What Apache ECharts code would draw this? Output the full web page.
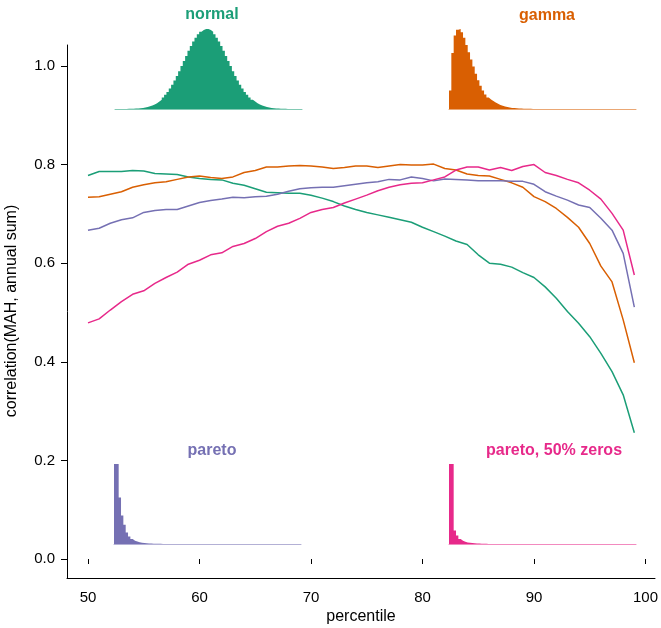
<!DOCTYPE html>
<html>
<head>
<meta charset="utf-8">
<script src="https://cdn.jsdelivr.net/npm/echarts@6/dist/echarts.min.js"></script>
<style>
html,body{margin:0;padding:0;background:#fff;}
#chart{width:661px;height:628px;}
</style>
</head>
<body>
<div id="chart"></div>
<script>
// ---- data ----
var percentiles = [50,51,52,53,54,55,56,57,58,59,60,61,62,63,64,65,66,67,68,69,70,71,72,73,74,75,76,77,78,79,80,81,82,83,84,85,86,87,88,89,90,91,92,93,94,95,96,97,98,99];
var normalCorr = [0.778,0.786,0.786,0.786,0.788,0.787,0.782,0.781,0.780,0.775,0.772,0.770,0.769,0.762,0.758,0.751,0.744,0.743,0.742,0.742,0.738,0.732,0.725,0.716,0.709,0.703,0.698,0.693,0.688,0.683,0.673,0.664,0.655,0.645,0.638,0.617,0.600,0.598,0.592,0.581,0.571,0.552,0.529,0.502,0.478,0.451,0.417,0.380,0.333,0.256];
var gammaCorr = [0.734,0.735,0.740,0.745,0.754,0.759,0.763,0.765,0.770,0.775,0.777,0.774,0.772,0.775,0.784,0.788,0.795,0.795,0.797,0.798,0.797,0.795,0.792,0.794,0.797,0.797,0.794,0.797,0.800,0.799,0.799,0.801,0.792,0.789,0.781,0.778,0.777,0.770,0.763,0.754,0.735,0.725,0.711,0.693,0.673,0.640,0.594,0.562,0.485,0.398];
var paretoCorr = [0.667,0.671,0.681,0.688,0.692,0.703,0.707,0.709,0.709,0.716,0.723,0.727,0.730,0.734,0.733,0.735,0.736,0.740,0.746,0.751,0.753,0.754,0.754,0.757,0.760,0.763,0.765,0.770,0.769,0.775,0.772,0.767,0.771,0.770,0.769,0.767,0.767,0.767,0.766,0.766,0.760,0.745,0.736,0.728,0.718,0.713,0.691,0.667,0.620,0.511];
var paretoZerosCorr = [0.479,0.487,0.505,0.522,0.537,0.544,0.559,0.571,0.582,0.598,0.606,0.617,0.621,0.634,0.640,0.650,0.664,0.675,0.681,0.691,0.703,0.709,0.713,0.722,0.730,0.738,0.747,0.754,0.759,0.762,0.763,0.769,0.775,0.789,0.795,0.795,0.789,0.794,0.788,0.796,0.800,0.784,0.778,0.770,0.763,0.748,0.730,0.701,0.667,0.576];

var xTicks = [50,60,70,80,90,100];
var yTicks = [0.0,0.2,0.4,0.6,0.8,1.0];

// inset histograms (80 bins, normalised to peak = 1)
var normalHist = [0,0,0.0005,0.001,0.001,0.002,0.003,0.004,0.005,0.007,0.010,0.014,0.019,0.025,0.033,0.044,0.057,0.073,0.093,0.116,0.144,0.177,0.214,0.257,0.304,0.357,0.413,0.473,0.536,0.600,0.664,0.727,0.787,0.843,0.892,0.933,0.965,0.987,1.0,
  1.0,0.987,0.965,0.933,0.892,0.843,0.787,0.727,0.664,0.600,0.536,0.473,0.413,0.357,0.304,0.257,0.214,0.177,0.144,0.116,0.093,0.073,0.057,0.044,0.033,0.025,0.019,0.014,0.010,0.007,0.005,0.004,0.003,0.002,0.001,0.001,0.0005,0,0,0,0];
var gammaHist = [0.23,0.70,0.92,0.99,1.0,0.96,0.89,0.80,0.71,0.62,0.53,0.44,0.36,0.29,0.23,0.18,0.145,0.12,0.10,0.08,0.065,0.05,0.04,0.03,0.024,0.018,0.014,0.011,0.008,0.006,0.005,0.004,0.003,0.0025,0.002,0.0015,0.001,0.001,0.0005,0.0005,
  0,0,0,0,0,0,0,0,0,0,0,0,0,0,0,0,0,0,0,0,0,0,0,0,0,0,0,0,0,0,0,0,0,0,0,0,0,0,0,0];
var paretoHist = [1.0,1.0,0.58,0.355,0.24,0.145,0.095,0.063,0.042,0.03,0.022,0.016,0.012,0.009,0.007,0.005,0.004,0.003,0.0025,0.002,0.0015,0.001,0.001,0.0005,0,0,0,0,0,0,0,0,0,0,0,0,0,0,0,0,
  0,0,0,0,0,0,0,0,0,0,0,0,0,0,0,0,0,0,0,0,0,0,0,0,0,0,0,0,0,0,0,0,0,0,0,0,0,0,0,0];
var paretoZerosHist = [1.0,1.0,0.17,0.105,0.063,0.04,0.028,0.02,0.015,0.011,0.008,0.006,0.005,0.004,0.003,0.002,0.0015,0.001,0.001,0.0005,0,0,0,0,0,0,0,0,0,0,0,0,0,0,0,0,0,0,0,0,
  0,0,0,0,0,0,0,0,0,0,0,0,0,0,0,0,0,0,0,0,0,0,0,0,0,0,0,0,0,0,0,0,0,0,0,0,0,0,0,0];

var seriesNames = ['normal','gamma','pareto','pareto, 50% zeros'];
var colors = ['#1b9e77','#d95f02','#7570b3','#e7298a'];

// ---- chart ----
var FONT = '"Liberation Sans", Arial, Helvetica, sans-serif';
var chart = echarts.init(document.getElementById('chart'), null, {renderer:'canvas'});

var hists = [normalHist, gammaHist, paretoHist, paretoZerosHist];
var insetBoxes = [
  {left:115, top:29, width:187, height:80},
  {left:449, top:29, width:187, height:80},
  {left:114, top:464, width:187, height:80},
  {left:449, top:464, width:187, height:80}
];
var insetTitles = [
  {x:212, y:15},
  {x:547, y:16},
  {x:212, y:451},
  {x:554, y:451}
];

var grids = [
  {left:67, top:45, width:588, height:533},   // frame
  {left:88, top:66, width:559, height:493}    // data
];
var xAxes = [
  {gridIndex:0, type:'value', min:0, max:1, axisLine:{show:true, lineStyle:{color:'#000', width:1}}, axisTick:{show:false}, axisLabel:{show:false}, splitLine:{show:false}},
  {gridIndex:1, type:'value', min:50, max:100, interval:10, offset:19,
    axisLine:{show:false}, axisTick:{show:true, length:5, lineStyle:{color:'#000'}},
    axisLabel:{show:true, color:'#000', fontSize:15, fontFamily:FONT, margin:12}, splitLine:{show:false}}
];
var yAxes = [
  {gridIndex:0, type:'value', min:0, max:1, axisLine:{show:true, lineStyle:{color:'#000', width:1}}, axisTick:{show:false}, axisLabel:{show:false}, splitLine:{show:false}},
  {gridIndex:1, type:'value', min:0, max:1, interval:0.2, offset:21,
    axisLine:{show:false}, axisTick:{show:true, length:6, lineStyle:{color:'#000'}},
    axisLabel:{show:true, color:'#000', fontSize:15, fontFamily:FONT, margin:12, formatter:function(v){return v.toFixed(1);}}, splitLine:{show:false}}
];

var series = [];
var corrs = [normalCorr, gammaCorr, paretoCorr, paretoZerosCorr];
corrs.forEach(function(arr, k){
  series.push({
    name: seriesNames[k], type:'line', xAxisIndex:1, yAxisIndex:1,
    data: percentiles.map(function(p, i){ return [p, arr[i]]; }),
    showSymbol:false, symbol:'none', smooth:false,
    lineStyle:{color:colors[k], width:1.5}, z:3
  });
});

hists.forEach(function(h, k){
  grids.push(insetBoxes[k]);
  var gi = grids.length - 1;
  xAxes.push({gridIndex:gi, type:'value', min:0, max:h.length,
    axisLine:{show:true, lineStyle:{color:colors[k], width:1, opacity:0.55}},
    axisTick:{show:false}, axisLabel:{show:false}, splitLine:{show:false}});
  yAxes.push({gridIndex:gi, type:'value', min:0, max:1, show:false, splitLine:{show:false}});
  // histogram drawn as a stepped filled area: each bin holds its height from its left edge to its right edge
  var pts = h.map(function(v, i){ return [i, v]; });
  pts.push([h.length, h[h.length - 1]]);
  series.push({
    name: seriesNames[k] + ' hist', type:'line', xAxisIndex:gi, yAxisIndex:gi,
    data:pts, step:'end', showSymbol:false, symbol:'none',
    lineStyle:{width:0, opacity:0},
    areaStyle:{color:colors[k], opacity:1},
    silent:true, z:2
  });
});

var graphics = [
  {type:'text', x:12, y:311, rotation:Math.PI/2,
   style:{text:'correlation(MAH, annual sum)', fill:'#000', font:'16px ' + FONT, textAlign:'center', textVerticalAlign:'middle'}},
  {type:'text', x:361, y:617,
   style:{text:'percentile', fill:'#000', font:'16px ' + FONT, textAlign:'center', textVerticalAlign:'middle'}}
];
insetTitles.forEach(function(t, k){
  graphics.push({type:'text', x:t.x, y:t.y,
    style:{text:seriesNames[k], fill:colors[k], font:'bold 16px ' + FONT, textAlign:'center', textVerticalAlign:'middle'}});
});

chart.setOption({
  animation:false,
  backgroundColor:'#fff',
  grid:grids,
  xAxis:xAxes,
  yAxis:yAxes,
  series:series,
  graphic:graphics
});
</script>
</body>
</html>
